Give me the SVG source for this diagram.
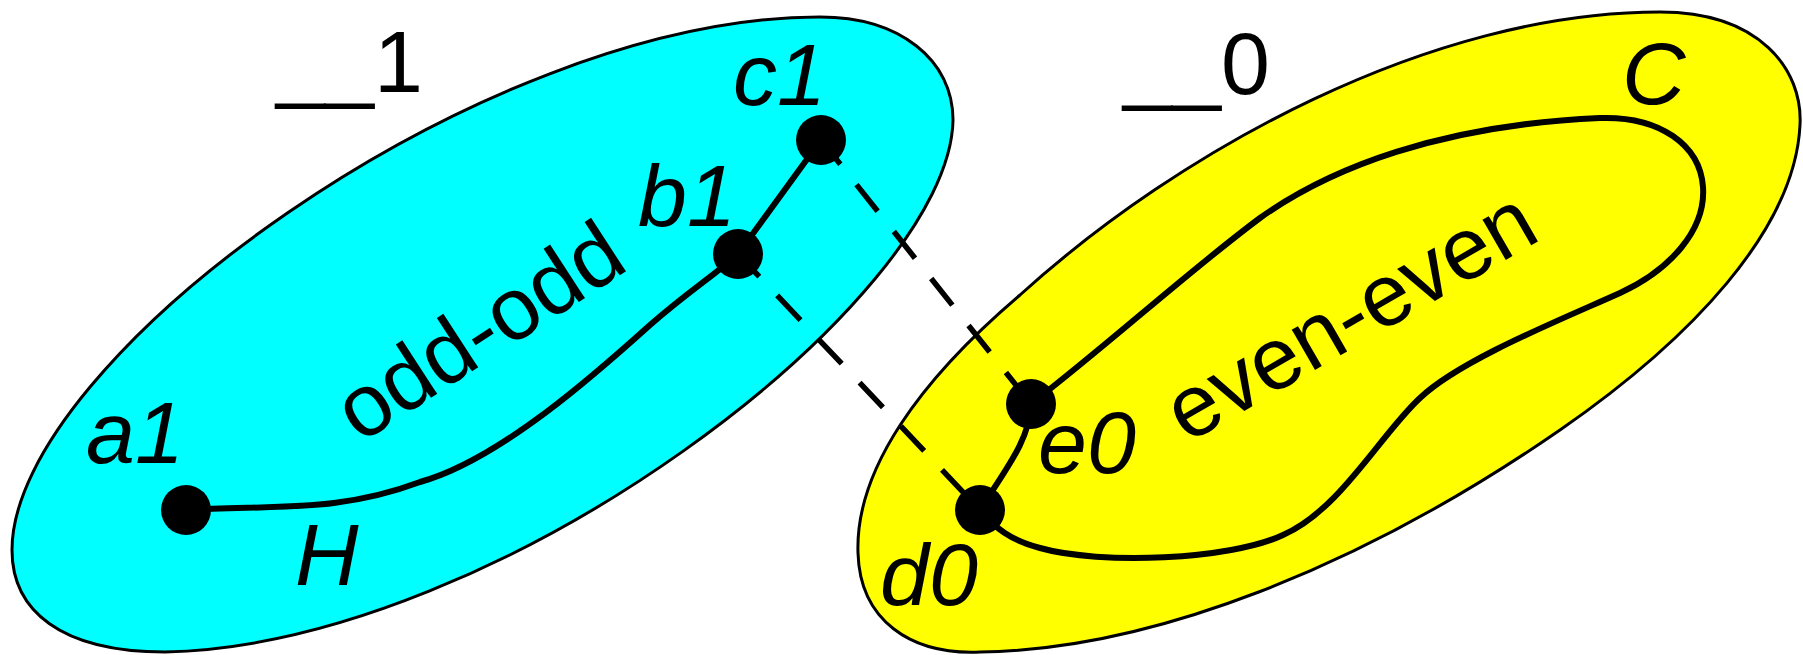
<svg xmlns="http://www.w3.org/2000/svg" width="1803" height="655" viewBox="0 0 1803 655">
<style>
.blob{stroke:#000;stroke-width:3}
.lbl{font-family:"Liberation Sans",Arial,sans-serif;font-size:88px;font-style:italic;fill:#000}
.up{font-family:"Liberation Sans",Arial,sans-serif;font-size:88px;fill:#000}
.path{fill:none;stroke:#000;stroke-width:6;stroke-linecap:round;stroke-linejoin:round}
.dash{fill:none;stroke:#000;stroke-width:5.5;stroke-dasharray:34 26;stroke-dashoffset:3}
.node{fill:#000}
</style>
<g id="set1">
<path class="blob" fill="#00FFFF" d="M12,550 C12,360 480,17 820,17 C900,17 953,60 953,120 C950,300 500,645 165,652 C60,652 12,610 12,550 Z"/>
<text class="up" x="276" y="92">__1</text>
</g>
<g id="set0">
<path class="blob" fill="#FFFF00" d="M858,553 C855,470 920,380 1020,295 C1180,150 1430,12 1660,12 C1760,12 1803,70 1800,125 C1795,230 1690,340 1560,430 C1360,568 1150,650 980,652 C910,655 860,620 858,553 Z"/>
<text class="up" x="1123" y="94">__0</text>
</g>
<g id="connectors">
<line class="dash" x1="738" y1="254" x2="980" y2="510"/>
<line class="dash" x1="821" y1="140" x2="1031" y2="404"/>
<path id="H" class="path" d="M186,510 C280,505 340,512 420,482 C500,460 600,370 650,325 C690,290 715,275 738,254"/>
<line class="path" x1="738" y1="254" x2="821" y2="140"/>
<path class="path" d="M1031,404 C1030,440 1005,470 980,510"/>
<path id="Cpath" class="path" d="M1031,404 C1110,343 1190,270 1260,218 C1330,168 1440,125 1600,118 C1660,116 1700,145 1703,187 C1706,230 1670,270 1620,293 C1560,320 1460,360 1420,398 C1380,435 1340,510 1283,535 C1230,560 1100,565 1040,548 C1010,540 995,528 980,510"/>
<text class="up" transform="translate(360,444) rotate(-33)">odd-odd</text>
<text class="up" transform="translate(1187,444) rotate(-30)">even-even</text>
<text class="lbl" x="295" y="585">H</text>
<text class="lbl" x="1622" y="104">C</text>
</g>
<g id="a1"><circle class="node" cx="186" cy="510" r="25"/><text class="lbl" x="86" y="463">a1</text></g>
<g id="b1"><circle class="node" cx="738" cy="254" r="25"/><text class="lbl" x="638" y="226">b1</text></g>
<g id="c1"><circle class="node" cx="821" cy="140" r="25"/><text class="lbl" x="733" y="105">c1</text></g>
<g id="e0"><circle class="node" cx="1031" cy="404" r="25"/><text class="lbl" x="1038" y="473">e0</text></g>
<g id="d0"><circle class="node" cx="980" cy="510" r="25"/><text class="lbl" x="880" y="605">d0</text></g>
</svg>
